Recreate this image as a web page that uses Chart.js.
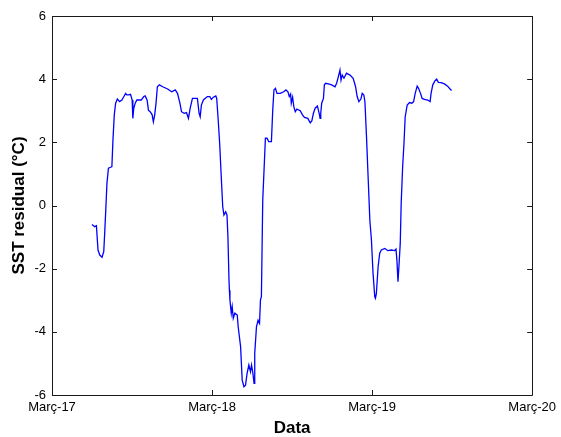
<!DOCTYPE html>
<html>
<head>
<meta charset="utf-8">
<script src="https://cdn.jsdelivr.net/npm/chart.js@4"></script>
<style>
  html, body { margin: 0; padding: 0; background: #fff; }
  #wrap { width: 561px; height: 437px; position: relative; }
</style>
</head>
<body>
<div id="wrap"><canvas id="c"></canvas></div>
<script>
// Time axis: months elapsed since March 2017
const months = [
  3.00, 3.20, 3.33, 3.45, 3.58, 3.75, 3.88, 3.95, 4.02, 4.12,
  4.23, 4.40, 4.49, 4.57, 4.67, 4.77, 4.90, 5.07, 5.24, 5.39,
  5.52, 5.61, 5.76, 5.89, 6.01, 6.06, 6.13, 6.24, 6.36, 6.69,
  6.88, 6.98, 7.13, 7.23, 7.36, 7.51, 7.60, 7.70, 7.80, 7.90,
  8.05, 8.30, 8.67, 8.97, 9.24, 9.41, 9.59, 9.71, 9.91, 10.08,
  10.23, 10.36, 10.53, 10.90, 11.03, 11.11, 11.20, 11.35, 11.65, 11.83,
  11.95, 12.10, 12.28, 12.35, 12.47, 12.57, 12.69, 12.80, 12.89, 13.02,
  13.12, 13.19, 13.27, 13.30, 13.34, 13.44, 13.51, 13.59, 13.71, 13.89,
  13.96, 14.14, 14.26, 14.39, 14.51, 14.63, 14.76, 14.88, 14.96, 15.06,
  15.15, 15.20, 15.33, 15.45, 15.56, 15.63, 15.70, 15.80, 15.93, 16.00,
  16.12, 16.25, 16.45, 16.55, 16.64, 16.75, 16.87, 17.12, 17.37, 17.54,
  17.69, 17.79, 17.89, 17.94, 18.04, 18.13, 18.24, 18.36, 18.61, 18.78,
  18.93, 19.18, 19.36, 19.48, 19.60, 19.73, 19.90, 20.03, 20.10, 20.15,
  20.22, 20.35, 20.42, 20.52, 20.72, 20.97, 21.22, 21.34, 21.47, 21.59,
  21.67, 21.76, 21.89, 22.08, 22.34, 22.58, 22.76, 22.88, 23.01, 23.16,
  23.26, 23.38, 23.46, 23.58, 23.70, 23.83, 23.95, 24.07, 24.20, 24.25,
  24.32, 24.45, 24.57, 24.69, 24.95, 25.19, 25.44, 25.69, 25.79, 25.86,
  25.94, 26.01, 26.11, 26.18, 26.29, 26.39, 26.48, 26.63, 26.81, 26.98,
  27.11, 27.23, 27.38, 27.48, 27.63, 27.75, 27.93, 28.17, 28.35, 28.42,
  28.55, 28.72, 28.84, 28.97, 29.17, 29.42, 29.66, 29.86, 29.96
];

// SST residual (°C)
const sstResidual = [
  -0.60, -0.67, -0.64, -1.41, -1.57, -1.64, -1.46, -0.88, -0.25, 0.70,
  1.18, 1.21, 1.23, 2.07, 2.87, 3.24, 3.37, 3.29, 3.34, 3.45,
  3.55, 3.50, 3.50, 3.52, 3.34, 2.76, 3.08, 3.24, 3.34, 3.34,
  3.45, 3.47, 3.34, 3.02, 2.97, 2.87, 2.65, 2.87, 3.24, 3.76,
  3.82, 3.76, 3.69, 3.60, 3.66, 3.55, 3.24, 2.97, 2.92, 2.94,
  2.76, 3.08, 3.39, 3.39, 2.92, 2.81, 3.18, 3.34, 3.45, 3.45,
  3.36, 3.43, 3.47, 3.39, 2.65, 1.97, 0.91, -0.04, -0.30, -0.20,
  -0.30, -0.99, -2.36, -2.68, -2.99, -3.41, -3.20, -3.57, -3.41, -3.47,
  -3.84, -4.47, -5.53, -5.74, -5.69, -5.31, -5.05, -5.26, -5.05, -5.31,
  -5.63, -4.68, -3.84, -3.63, -3.73, -2.99, -2.89, 0.17, 1.44, 2.13,
  2.13, 2.02, 2.02, 3.02, 3.66, 3.71, 3.55, 3.55, 3.60, 3.66,
  3.60, 3.45, 3.53, 3.24, 3.43, 3.13, 2.97, 3.05, 3.00, 2.87,
  2.79, 2.76, 2.62, 2.68, 2.92, 3.08, 3.15, 2.92, 2.76, 2.92,
  3.24, 3.39, 3.82, 3.87, 3.85, 3.82, 3.76, 3.87, 4.08, 4.29,
  3.97, 4.13, 4.03, 4.19, 4.13, 4.03, 3.76, 3.45, 3.29, 3.37,
  3.55, 3.50, 3.29, 2.18, 0.91, -0.46, -1.09, -2.15, -2.89, -2.94,
  -2.78, -1.94, -1.51, -1.41, -1.36, -1.43, -1.41, -1.43, -1.38, -1.73,
  -2.41, -1.94, -1.20, 0.07, 1.23, 1.97, 2.81, 3.18, 3.26, 3.24,
  3.29, 3.55, 3.78, 3.71, 3.55, 3.39, 3.36, 3.34, 3.29, 3.55,
  3.82, 3.95, 4.00, 3.90, 3.89, 3.85, 3.78, 3.68, 3.64
];

const xTickValues = [0, 12, 24, 36];
const xTickLabels = ['Març-17', 'Març-18', 'Març-19', 'Març-20'];
const yTickValues = [-6, -4, -2, 0, 2, 4, 6];

const FONT = "'Liberation Sans', Arial, Helvetica, sans-serif";

// Box frame with inward tick marks on all four sides
const boxTicks = {
  id: 'boxTicks',
  afterDatasetsDraw(chart) {
    const { ctx, chartArea: a, scales: { x, y } } = chart;
    const len = 5;
    ctx.save();
    ctx.strokeStyle = '#1a1a1a';
    ctx.lineWidth = 1;
    ctx.beginPath();
    ctx.rect(Math.round(a.left) + 0.5, Math.round(a.top) + 0.5,
             Math.round(a.right - a.left), Math.round(a.bottom - a.top));
    for (const v of xTickValues) {
      const px = Math.round(x.getPixelForValue(v)) + 0.5;
      ctx.moveTo(px, a.bottom); ctx.lineTo(px, a.bottom - len);
      ctx.moveTo(px, a.top); ctx.lineTo(px, a.top + len);
    }
    for (const v of yTickValues) {
      const py = Math.round(y.getPixelForValue(v)) + 0.5;
      ctx.moveTo(a.left, py); ctx.lineTo(a.left + len, py);
      ctx.moveTo(a.right, py); ctx.lineTo(a.right - len, py);
    }
    ctx.stroke();
    ctx.restore();
  }
};

new Chart(document.getElementById('c'), {
  type: 'line',
  data: {
    datasets: [{
      data: months.map((m, i) => ({ x: m, y: sstResidual[i] })),
      borderColor: '#0000ff',
      borderWidth: 1.3,
      pointRadius: 0,
      tension: 0,
      fill: false
    }]
  },
  options: {
    responsive: true,
    maintainAspectRatio: false,
    animation: false,
    events: [],
    layout: { padding: { top: 16, right: 26, left: 0, bottom: 0 } },
    plugins: { legend: { display: false }, tooltip: { enabled: false } },
    scales: {
      x: {
        type: 'linear',
        min: 0, max: 36,
        afterBuildTicks(scale) { scale.ticks = xTickValues.map(v => ({ value: v })); },
        afterFit(scale) { scale.height = 42; },
        grid: { display: false, drawTicks: false },
        border: { display: false },
        ticks: {
          color: '#000',
          font: { family: FONT, size: 13 },
          padding: 5,
          maxRotation: 0,
          callback: (v) => xTickLabels[xTickValues.indexOf(v)]
        },
        title: {
          display: true,
          text: 'Data',
          color: '#000',
          font: { family: FONT, size: 17, weight: 'bold', lineHeight: 1 },
          padding: { top: 0, bottom: 0 }
        }
      },
      y: {
        min: -6, max: 6,
        afterBuildTicks(scale) { scale.ticks = yTickValues.map(v => ({ value: v })); },
        afterFit(scale) { scale.width = 52; },
        grid: { display: false, drawTicks: false },
        border: { display: false },
        ticks: {
          color: '#000',
          font: { family: FONT, size: 13 },
          padding: 6
        },
        title: {
          display: true,
          text: 'SST residual (°C)',
          color: '#000',
          font: { family: FONT, size: 17, weight: 'bold' },
          padding: { top: 9, bottom: 0 }
        }
      }
    }
  },
  plugins: [boxTicks]
});
</script>
</body>
</html>
